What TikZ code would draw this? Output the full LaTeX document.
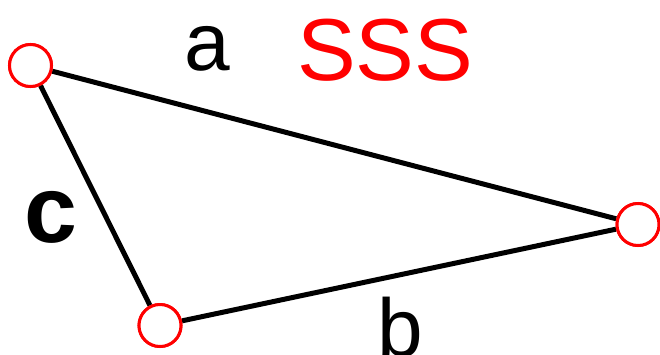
\documentclass[tikz,border=0pt]{standalone}
\usepackage{fontspec}
\setmainfont{Liberation Sans}
\definecolor{pred}{RGB}{255,0,0}
\begin{document}
\begin{tikzpicture}[x=1pt,y=-1pt,
  vtx/.style={circle,draw=pred,line width=3pt,fill=white,minimum size=42pt,inner sep=0pt},
  side/.style={line width=5pt,black},
  lbl/.style={anchor=base west,inner sep=0pt,font=\fontsize{82}{82}\selectfont}]
\useasboundingbox (0,0) rectangle (660,354);
\node[vtx] (A) at (30.5,65.5) {};
\node[vtx] (B) at (638,224.5) {};
\node[vtx] (C) at (160,325.5) {};
\draw[side] (A) -- (B);
\draw[side] (B) -- (C);
\draw[side] (C) -- (A);
\node[vtx] at (A) {};
\node[vtx] at (B) {};
\node[vtx] at (C) {};
\node[lbl] (la) at (184,70) {a};
\node[lbl,text=pred,font=\fontsize{88}{88}\selectfont] (ls) at (297,80) {SSS};
\node[lbl,font=\fontsize{95}{95}\selectfont\bfseries] (lc) at (24,242) {c};
\node[lbl] (lb) at (377,356) {b};
\end{tikzpicture}
\end{document}
